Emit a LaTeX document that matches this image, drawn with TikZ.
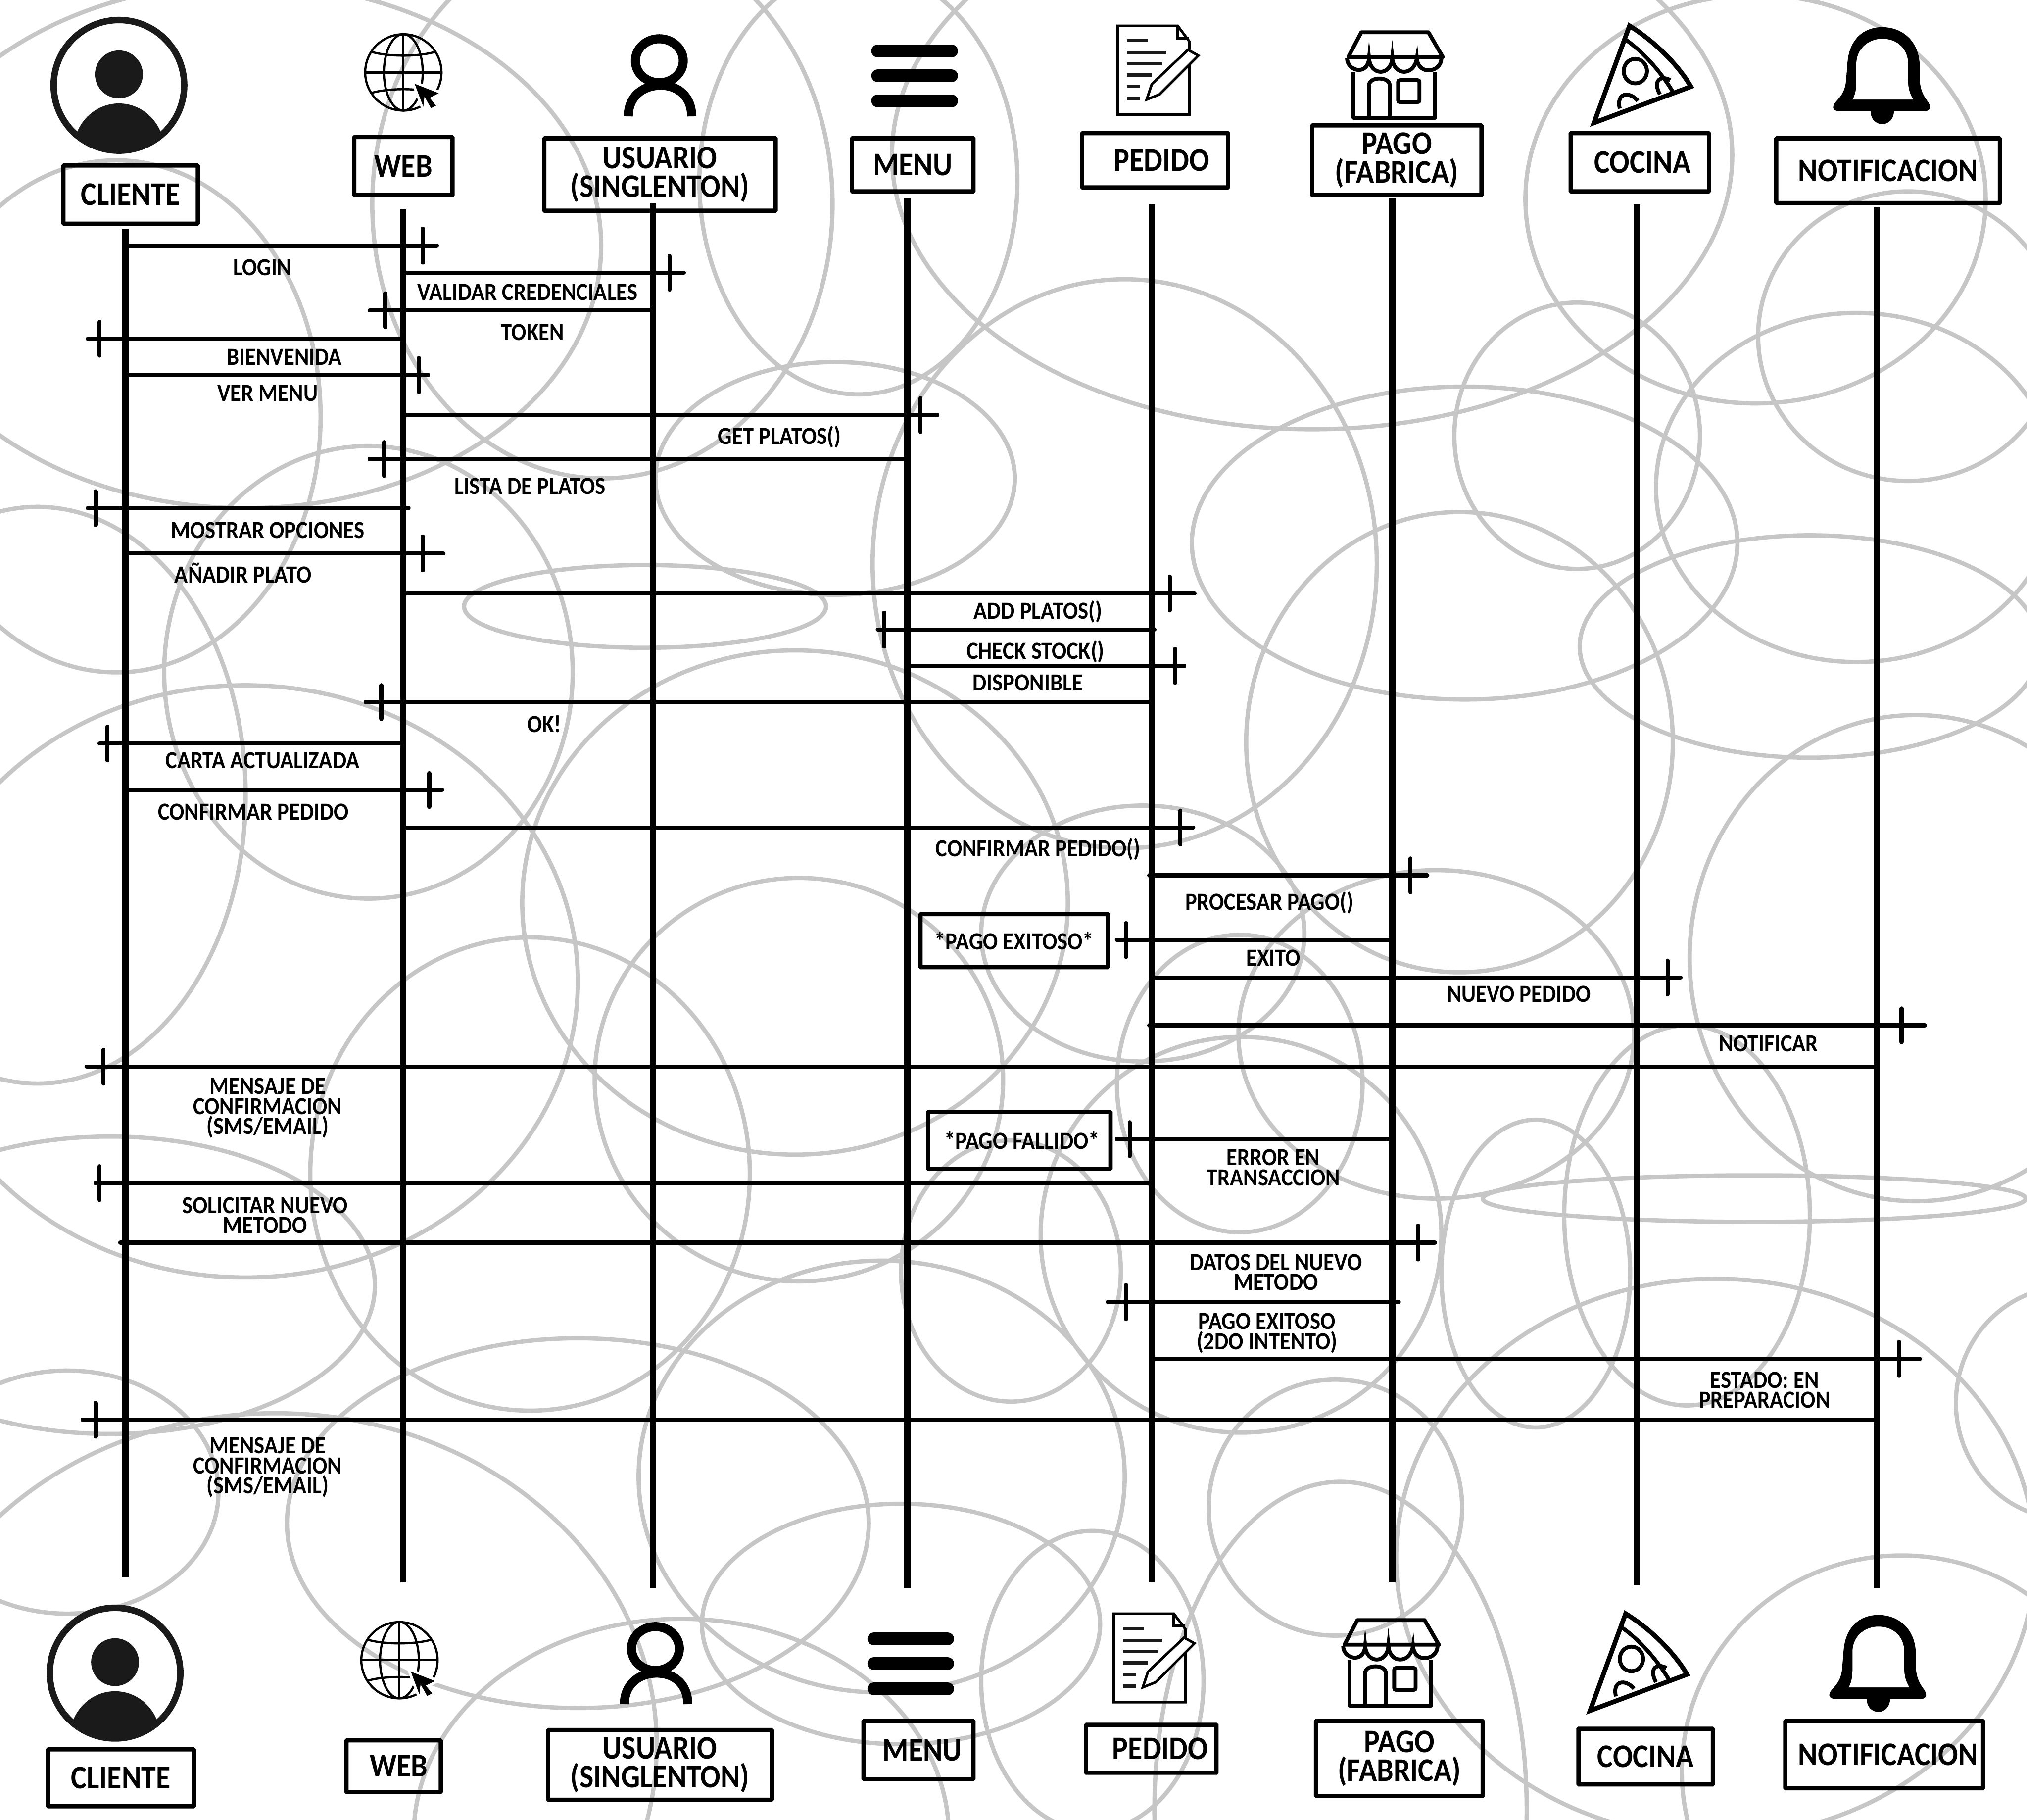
\documentclass[tikz,border=0pt]{standalone}
\usepackage{fontspec}
\setmainfont{Carlito}[FakeStretch=0.9]
\usepackage{tikz}
\usetikzlibrary{arrows.meta, positioning, calc}
\definecolor{ringgray}{HTML}{C6C6C6}
\definecolor{icondark}{HTML}{1A1A1A}
\tikzset{
    ring/.style={draw=ringgray, line width=3.3pt},
    lifeline/.style={draw=black, line width=4.9pt},
    msg/.style={draw=black, line width=3.3pt, line cap=round},
    actorbox/.style={draw=black, line width=3.3pt, rounded corners=0.5pt, align=center, inner sep=0pt,
        font=\bfseries\fontsize{25.5}{22}\selectfont},
    notebox/.style={draw=black, line width=3.3pt, rounded corners=0.5pt, align=center, inner sep=0pt,
        font=\bfseries\fontsize{19}{15.5}\selectfont},
    lbl/.style={align=center, inner sep=0pt, font=\bfseries\fontsize{19}{15.5}\selectfont},
    pics/clienteicon/.style={code={
        \draw[icondark, line width=5pt] (92,66) circle [radius=50.5];
        \fill[icondark] (92,57.5) ellipse [x radius=18.5, y radius=18.5];
        \begin{scope}
            \clip (92,66) circle [radius=51];
            \fill[icondark] (92,116) ellipse [x radius=35, y radius=36];
        \end{scope}
    }},
    pics/webicon/.style={code={
        \draw[line width=1.7pt] (312,56) circle [radius=29.5];
        \draw[line width=1.7pt] (312,56) ellipse [x radius=15, y radius=29.5];
        \draw[line width=1.7pt] (312,26.5) -- (312,85.5);
        \draw[line width=1.7pt] (282.5,56) -- (341.5,56);
        \draw[line width=1.7pt] (287,40) .. controls (300,44) and (324,44) .. (337,40);
        \draw[line width=1.7pt] (287,72) .. controls (300,68) and (324,68) .. (337,72);
        \filldraw[draw=white, fill=black, line width=2pt] (319,63) -- (342,72) -- (334,76) -- (339,82)
            -- (333,85) -- (329,78) -- (328,87) -- cycle;
    }},
    pics/usuarioicon/.style={code={
        \draw[line width=7pt] (510,47) ellipse [x radius=18.5, y radius=17];
        \draw[line width=7pt] (486,90) .. controls (486,75) and (497,66) .. (511,66)
            .. controls (525,66) and (535,75) .. (535,90);
    }},
    pics/menuicon/.style={code={
        \draw[line width=10pt, line cap=round] (679,39.5) -- (736,39.5);
        \draw[line width=10pt, line cap=round] (679,58.5) -- (736,58.5);
        \draw[line width=10pt, line cap=round] (679,78) -- (736,78);
    }},
    pics/pedidoicon/.style={code={
        \draw[line width=2pt] (920,50) -- (920,88.5) -- (864.5,88.5) -- (864.5,20) -- (911,20) -- (920,32) -- (920,38);
        \draw[line width=2pt] (911,20) -- (911,29.5) -- (920,29.5);
        \foreach \yy/\xe in {31.5/888, 40.5/902, 49.5/899, 58/891, 67/882, 76/882}
            \draw[line width=2.4pt, icondark] (871.5,\yy) -- (\xe,\yy);
        \filldraw[fill=white, line width=2pt] (891,65) -- (919,38.5) -- (927,43) -- (897,73) -- (887,77) -- cycle;
    }},
    pics/pagoicon/.style={code={
        \draw[line width=3pt, line join=round] (1043,44) -- (1053,25) -- (1105,25) -- (1116,44) -- cycle;
        \draw[line width=3pt] (1042,45) .. controls (1042,55) and (1058,59) .. (1059,45)
            .. controls (1060,59) and (1076,59) .. (1077,45)
            .. controls (1078,59) and (1094,59) .. (1096,45)
            .. controls (1097,59) and (1115,56) .. (1115,45);
        \draw[line width=3pt, line join=round] (1047,56) -- (1047,91) -- (1110,91) -- (1110,56);
        \draw[line width=3pt] (1059,91) -- (1059,66) .. controls (1059,59) and (1075,59) .. (1075,66) -- (1075,91);
        \draw[line width=3pt, rounded corners=1.5pt] (1081.5,62) rectangle (1098,79);
    }},
    pics/cocinaicon/.style={code={
        \draw[line width=3.6pt, line join=miter] (1233,95) -- (1260.5,20)
            .. controls (1280,32) and (1298,50) .. (1308,67) -- cycle;
        \draw[line width=3pt] (1258,31) .. controls (1272,41) and (1285,56) .. (1294,71);
        \draw[line width=3pt] (1265,55) ellipse [x radius=9, y radius=9.5];
        \draw[line width=3pt] (1284,73) .. controls (1278,62) and (1285,58) .. (1292,62);
        \draw[line width=3pt] (1253,84) .. controls (1250,72) and (1260,70) .. (1267,78);
    }},
    pics/notificacionicon/.style={code={
        \fill (1418,83) .. controls (1418,78) and (1427,76) .. (1428,62) -- (1429,50)
            .. controls (1430,30) and (1442,21) .. (1456,21) .. controls (1470,21) and (1484,30) .. (1485,50)
            -- (1485,62) .. controls (1486,76) and (1493,78) .. (1493,83)
            .. controls (1493,85) and (1491,86) .. (1489,86) -- (1465,86)
            .. controls (1465,92) and (1461,96) .. (1456,96) .. controls (1451,96) and (1447,92) .. (1447,86)
            -- (1423,86) .. controls (1420,86) and (1418,85) .. (1418,83) -- cycle;
        \fill[white] (1433,77) .. controls (1436,72) and (1436,66) .. (1436,60) -- (1436,48)
            .. controls (1437,36) and (1447,30) .. (1456,30) .. controls (1466,30) and (1475,36) .. (1476,48)
            -- (1476,62) .. controls (1476,68) and (1477,72) .. (1480,77) -- cycle;
    }}
}

\begin{document}
\begin{tikzpicture}[x=1pt, y=-1pt]
    \useasboundingbox (0,0) rectangle (1568,1407.6);
    \fill[white] (0,0) rectangle (1568,1407.6);

    % Background rings
    \begin{scope}
        \clip (0,0) rectangle (1568,1407.6);
        \foreach \cx/\cy/\rx/\ry in {190/190/275/203, 466/158/178/212, 664/140/123/165, 1015/120/325/212,
            1358/154/178/158, 646/370/139/90, 870/436/195/220, 1220/337/95/103, 1476/260/116/112,
            1436/377/155/135, 1133/420/211/121, 1400/500/178/86, 499/469/140/32, 285/520/158/175,
            1129/574/165/178, 615/698/211/195, 90/322/158/198, 29/615/161/223, 190/759/257/229,
            410/908/170/183, 618/835/158/156, 884/722/125/99, 959/838/95/115, 1111/800/153/127,
            960/955/155/153, 1305/940/95/147, 1188/985/73/119, 1357/927/210/18, 1482/741/175/188,
            1327/1205/247/216, 1600/1085/87/90, 85/994/205/115, 52/1154/117/94, 447/1178/225/143,
            682/1142/188/167, 213/1350/295/257, 697/1256/154/93, 845/1300/86/116, 1037/1400/144/254,
            527/1420/207/168, 1471/1370/170/167, 782/983/85/101, 1033/1166/98/99}
            \draw[ring] (\cx,\cy) ellipse [x radius=\rx, y radius=\ry];
    \end{scope}

    % Icons, top and bottom row
    \foreach \ic in {clienteicon, webicon, usuarioicon, menuicon, pedidoicon, pagoicon, cocinaicon, notificacionicon} {
        \pic at (0,0) {\ic};
        \pic at (-3,1228) {\ic};
    }

    % Top boxes
    \node[actorbox, minimum width=104pt, minimum height=45pt] (clienteTop) at (101,150.5) {CLIENTE};
    \node[actorbox, minimum width=76pt, minimum height=45pt] (webTop) at (312,128.5) {WEB};
    \node[actorbox, minimum width=179pt, minimum height=56pt] (usuarioTop) at (510.5,135) {USUARIO\\(SINGLENTON)};
    \node[actorbox, minimum width=94pt, minimum height=41pt] (menuTop) at (706,127.5) {MENU};
    \node[actorbox, minimum width=113pt, minimum height=42pt] (pedidoTop) at (893.5,124) {\hspace{10pt}PEDIDO};
    \node[actorbox, minimum width=131pt, minimum height=54pt] (pagoTop) at (1080.5,124) {PAGO\\(FABRICA)};
    \node[actorbox, minimum width=107pt, minimum height=45pt] (cocinaTop) at (1268.5,125.5) {\hspace{4pt}COCINA};
    \node[actorbox, minimum width=173pt, minimum height=50pt] (notificacionTop) at (1460.5,132) {NOTIFICACION};

    % Bottom boxes
    \node[actorbox, minimum width=113pt, minimum height=44pt] (clienteBot) at (93.5,1375) {CLIENTE};
    \node[actorbox, minimum width=73pt, minimum height=40pt] (webBot) at (304.5,1366) {\hspace{8pt}WEB};
    \node[actorbox, minimum width=173pt, minimum height=54pt] (usuarioBot) at (510.5,1365) {USUARIO\\(SINGLENTON)};
    \node[actorbox, minimum width=85pt, minimum height=45pt] (menuBot) at (710.5,1353.5) {\hspace{6pt}MENU};
    \node[actorbox, minimum width=101pt, minimum height=37pt] (pedidoBot) at (890.5,1352.5) {\hspace{14pt}PEDIDO};
    \node[actorbox, minimum width=129pt, minimum height=58pt] (pagoBot) at (1082.5,1360) {PAGO\\(FABRICA)};
    \node[actorbox, minimum width=104pt, minimum height=43pt] (cocinaBot) at (1273,1358.5) {COCINA};
    \node[actorbox, minimum width=153pt, minimum height=52pt] (notificacionBot) at (1457.5,1357) {\hspace{6pt}NOTIFICACION};

    % Lifelines
    \foreach \n/\xx/\ya/\yb in {cliente/97/177/1220, web/312/162/1224, usuario/505/157/1228, menu/702/153/1228,
        pedido/891/158/1224, pago/1077/153/1224, cocina/1266/158/1226, notificacion/1452/160/1228} {
        \coordinate (\n-a) at (\xx,\ya);
        \coordinate (\n-b) at (\xx,\yb);
        \draw[lifeline] (\n-a) -- (\n-b);
    }

    % Messages with their bars
    \foreach \n/\xa/\xb/\xt/\yy in {1/97/338/327/190, 2/312/529/518/211, 3/505/286/298/240, 4/312/68/77/262,
        5/97/331/324/290, 6/312/725/712/321, 7/702/286/297/355, 8/316/68/74/393, 9/97/343/327/428,
        10/312/924/905/459, 11/893/679/684/487, 12/702/916/909/515, 13/891/283/295/543, 14/312/77/83/575,
        15/97/342/332/611, 16/312/923/913/640, 17/889/1104/1091/677, 18/1077/864/871/727, 19/891/1300/1290/756,
        20/889/1489/1471/793, 21/1452/67/80/825, 22/1077/864/874/881, 23/891/74/77/915, 24/93/1110/1097/961,
        25/1082/857/871/1007, 26/891/1485/1469/1051, 27/1452/64/74/1098} {
        \coordinate (m\n-a) at (\xa,\yy);
        \coordinate (m\n-b) at (\xb,\yy);
        \coordinate (m\n-t) at (\xt,\yy);
        \draw[msg] (m\n-a) -- (m\n-b);
        \draw[msg] ([yshift=13pt]m\n-t) -- ([yshift=-13pt]m\n-t);
    }

    % Notes
    \node[notebox, minimum width=145pt, minimum height=41pt] (exitoso) at (784.5,727.5) {*PAGO EXITOSO*};
    \node[notebox, minimum width=141pt, minimum height=44pt] (fallido) at (788.5,882) {\hspace{4pt}*PAGO FALLIDO*};

    % Labels
    \node[lbl] (lblLogin) at (203,207) {LOGIN};
    \node[lbl] (lblValidar) at (408,226) {VALIDAR CREDENCIALES};
    \node[lbl] (lblToken) at (412,257) {TOKEN};
    \node[lbl] (lblBienvenida) at (220,276) {BIENVENIDA};
    \node[lbl] (lblVerMenu) at (207,304) {VER MENU};
    \node[lbl] (lblGetPlatos) at (603,338) {GET PLATOS()};
    \node[lbl] (lblLista) at (410,376) {LISTA DE PLATOS};
    \node[lbl] (lblMostrar) at (207,410) {MOSTRAR OPCIONES};
    \node[lbl] (lblAnadir) at (188,443) {AÑADIR PLATO};
    \node[lbl] (lblAdd) at (803,473) {ADD PLATOS()};
    \node[lbl] (lblCheck) at (801,504) {CHECK STOCK()};
    \node[lbl] (lblDisponible) at (795,528) {DISPONIBLE};
    \node[lbl] (lblOk) at (421,560) {OK!};
    \node[lbl] (lblCarta) at (203,588) {CARTA ACTUALIZADA};
    \node[lbl] (lblConfirmar) at (196,628) {CONFIRMAR PEDIDO};
    \node[lbl] (lblConfirmarF) at (803,657) {CONFIRMAR PEDIDO()};
    \node[lbl] (lblProcesar) at (982,698) {PROCESAR PAGO()};
    \node[lbl] (lblExito) at (985,741) {EXITO};
    \node[lbl] (lblNuevo) at (1175,769) {NUEVO PEDIDO};
    \node[lbl] (lblNotificar) at (1368,807) {NOTIFICAR};
    \node[lbl] (lblMensajeA) at (207,857) {MENSAJE DE\\CONFIRMACION\\(SMS/EMAIL)};
    \node[lbl] (lblError) at (985,903) {ERROR EN\\TRANSACCION};
    \node[lbl] (lblSolicitar) at (205,940) {SOLICITAR NUEVO\\METODO};
    \node[lbl] (lblDatos) at (987,984) {DATOS DEL NUEVO\\METODO};
    \node[lbl] (lblPagoDos) at (980,1031) {PAGO EXITOSO\\(2DO INTENTO)};
    \node[lbl] (lblEstado) at (1365,1075) {ESTADO: EN\\PREPARACION};
    \node[lbl] (lblMensajeB) at (207,1135) {MENSAJE DE\\CONFIRMACION\\(SMS/EMAIL)};
\end{tikzpicture}
\end{document}
